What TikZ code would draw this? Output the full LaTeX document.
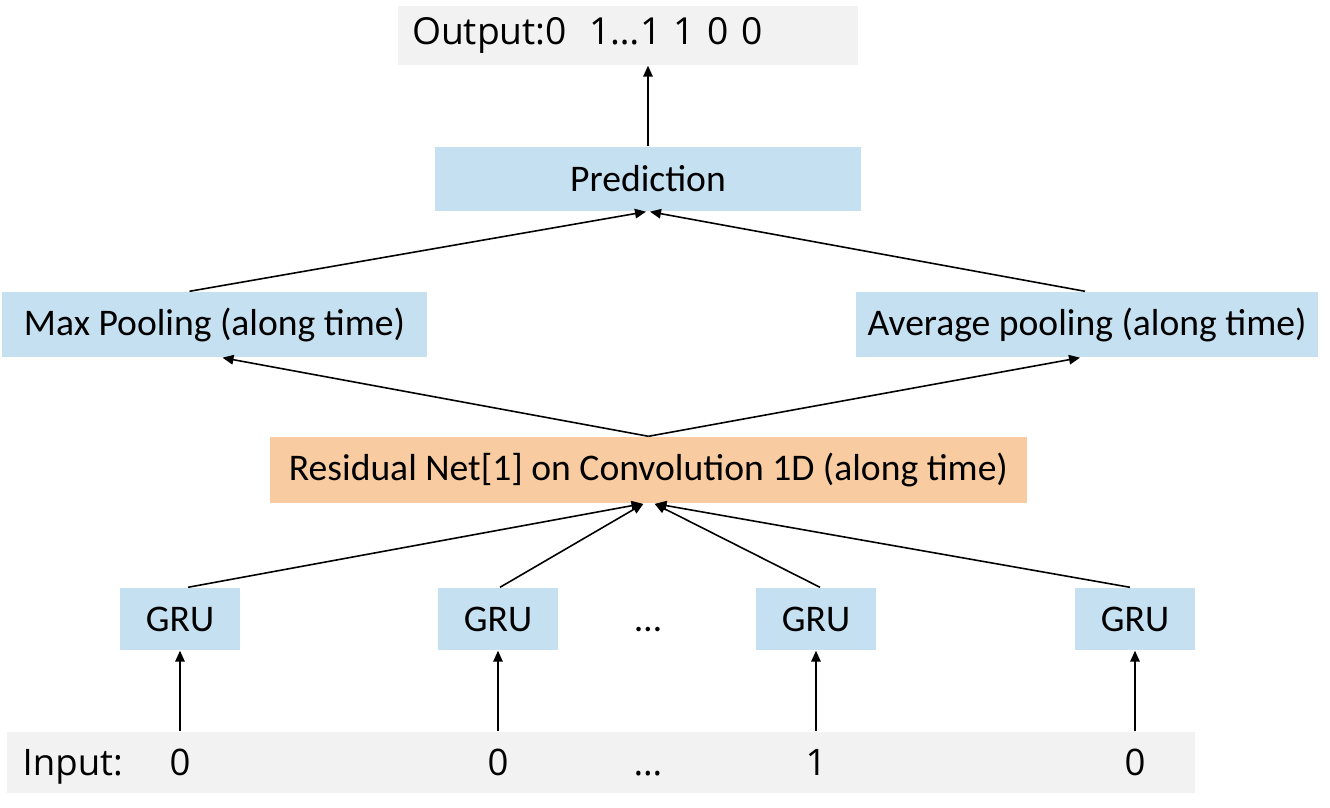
\documentclass[tikz,border=0pt]{standalone}
\usepackage{fontspec}
\setmainfont{Carlito}
\newfontfamily\segoe{Open Sans}
\usetikzlibrary{positioning,arrows.meta,calc}
\definecolor{boxblue}{RGB}{197,224,240}
\definecolor{boxorange}{RGB}{249,203,160}
\definecolor{bargray}{RGB}{242,242,242}
\tikzset{
	blubox/.style={fill=boxblue, inner sep=0pt, font=\fontsize{10.7}{12}\selectfont},
	graybar/.style={fill=bargray, inner sep=0pt},
	val/.style={font=\segoe\fontsize{10.4}{12}\selectfont, inner sep=0pt, anchor=base},
	arr/.style={-{Triangle[length=1.1mm,width=0.95mm]}, line width=0.45pt}
}

\begin{document}
\begin{tikzpicture}
		\useasboundingbox (0,0) rectangle (13.3,-8.08);
		% output line
		\node [graybar, minimum width=4.6cm, minimum height=0.59cm, text width=4.32cm, align=left, font=\segoe\fontsize{10.6}{12}\selectfont] (out) at (6.28,-0.355) {Output:0\hspace{0.6em}1…1 1 0 0};
		\node [blubox, minimum width=4.26cm, minimum height=0.64cm] (pred) at (6.48,-1.79) {Prediction};
		\node [blubox, minimum width=4.25cm, minimum height=0.65cm] (maxp) at (2.145,-3.245) {Max Pooling (along time)};
		\node [blubox, minimum width=4.62cm, minimum height=0.65cm] (avgp) at (10.87,-3.245) {Average pooling (along time)};
		\node [blubox, fill=boxorange, minimum width=7.57cm, minimum height=0.66cm] (res) at (6.485,-4.70) {Residual Net[1] on Convolution 1D (along time)};
		% GRU row
		\node [blubox, minimum width=1.2cm, minimum height=0.62cm] (gru1) at (1.80,-6.19) {GRU};
		\node [blubox, minimum width=1.2cm, minimum height=0.62cm] (gru2) at (4.98,-6.19) {GRU};
		\node [blubox, minimum width=1.2cm, minimum height=0.62cm] (gru3) at (8.16,-6.19) {GRU};
		\node [blubox, minimum width=1.2cm, minimum height=0.62cm] (gru4) at (11.35,-6.19) {GRU};
		\node [font=\fontsize{10.7}{12}\selectfont, inner sep=0pt, anchor=base] (gdots) at (6.48,0 |- gru2.base) {…};
		% input line
		\node [graybar, minimum width=11.88cm, minimum height=0.61cm] (inp) at (6.01,-7.625) {};
		\node [val, anchor=base west] (inlbl) at (0.22,-7.75) {Input:};
		\node [val] (in1) at (gru1 |- inlbl.base) {0};
		\node [val] (in2) at (gru2 |- inlbl.base) {0};
		\node [val] (in3) at (gdots |- inlbl.base) {…};
		\node [val] (in4) at (gru3 |- inlbl.base) {1};
		\node [val] (in5) at (gru4 |- inlbl.base) {0};

		\draw [arr] (gru1 |- inp.north) -- (gru1.south);
		\draw [arr] (gru2 |- inp.north) -- (gru2.south);
		\draw [arr] (gru3 |- inp.north) -- (gru3.south);
		\draw [arr] (gru4 |- inp.north) -- (gru4.south);
		\draw [arr] ([xshift=0.08cm]gru1.north) -- ([xshift=-0.06cm]res.south);
		\draw [arr] ([xshift=0.02cm]gru2.north) -- ([xshift=-0.05cm]res.south);
		\draw [arr] ([xshift=0.04cm]gru3.north) -- ([xshift=0.06cm]res.south);
		\draw [arr] ([xshift=-0.05cm]gru4.north) -- ([xshift=0.07cm]res.south);
		\draw [arr] (res.north) -- ([xshift=0.08cm]maxp.south);
		\draw [arr] (res.north) -- ([xshift=-0.07cm]avgp.south);
		\draw [arr] ([xshift=-0.25cm]maxp.north) -- ([xshift=-0.02cm]pred.south);
		\draw [arr] ([xshift=-0.02cm]avgp.north) -- ([xshift=0.02cm]pred.south);
		\draw [arr] (pred.north) -- (pred.north |- out.south);
\end{tikzpicture}
\end{document}
